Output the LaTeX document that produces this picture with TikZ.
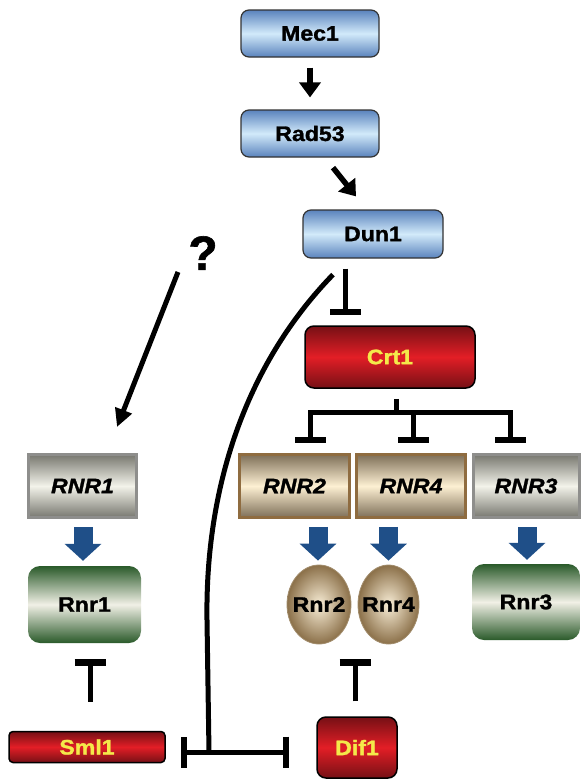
\documentclass[tikz,border=0pt]{standalone}
\usepackage{fontspec}
\setmainfont{Liberation Sans}[BoldFeatures={FakeBold=1.3}, BoldItalicFeatures={FakeBold=1.3}]
\usetikzlibrary{arrows.meta,calc,shapes.geometric}
\definecolor{bluedark}{HTML}{5A83BD}
\definecolor{bluelight}{HTML}{D2EAFA}
\definecolor{reddark}{HTML}{761015}
\definecolor{redmid}{HTML}{E31E26}
\definecolor{txtyellow}{HTML}{F4E94A}
\definecolor{greydark}{HTML}{77776F}
\definecolor{greylight}{HTML}{F3F3EA}
\definecolor{greyborder}{HTML}{8E8E8C}
\definecolor{beigedark}{HTML}{7E6F58}
\definecolor{beigelight}{HTML}{FDF0D3}
\definecolor{beigeborder}{HTML}{8F6C40}
\definecolor{greendark}{HTML}{2A5A2A}
\definecolor{greenlight}{HTML}{F1F0E6}
\definecolor{ballout}{HTML}{8B7049}
\definecolor{ballin}{HTML}{F8EDD6}
\definecolor{arrblue}{HTML}{1F4F88}
\newcommand{\wt}[1]{\scalebox{1.1}[1]{#1}}
\begin{document}
\begin{tikzpicture}[x=1pt,y=-1pt,
  lab/.style={font=\fontsize{21}{23}\selectfont\bfseries, inner sep=0pt},
  bluebox/.style={lab, rounded corners=8pt, draw=black!80, line width=1.2pt,
    top color=bluedark, bottom color=bluedark, middle color=bluelight,
    minimum width=138pt, minimum height=47pt},
  redbox/.style={lab, rounded corners=9pt, draw=black, line width=1.5pt,
    top color=reddark, bottom color=reddark, middle color=redmid, text=txtyellow},
  greygene/.style={lab, font=\fontsize{21}{23}\selectfont\bfseries\itshape,
    draw=greyborder, line width=3pt,
    top color=greydark, bottom color=greydark, middle color=greylight,
    minimum height=63pt},
  beigegene/.style={lab, font=\fontsize{21}{23}\selectfont\bfseries\itshape,
    draw=beigeborder, line width=2.5pt,
    top color=beigedark, bottom color=beigedark, middle color=beigelight,
    minimum height=63pt},
  greenprot/.style={lab, rounded corners=12pt,
    top color=greendark, bottom color=greendark, middle color=greenlight,
    minimum width=110pt, minimum height=76pt},
  ball/.style={lab, ellipse, inner xsep=-12pt, inner ysep=0pt,
    draw=ballout!80, line width=0.8pt,
    inner color=ballin, outer color=ballout,
    minimum height=79pt},
  blk/.style={line width=5.5pt, -{Triangle[length=15pt,width=21pt]}},
  inh/.style={line width=5pt, -{Bar[width=31pt,line width=6.5pt]}},
  thk/.style={line width=5pt},
  barrow/.style={arrblue, line width=19pt, -{Triangle[length=17pt,width=36pt]}}
]
\useasboundingbox (0,0) rectangle (581,780);

% nodes
\node[bluebox] (mec) at (310,33.5) {\wt{Mec1}};
\node[bluebox] (rad) at (310,133.5) {\wt{Rad53}};
\node[bluebox, minimum width=140pt, minimum height=48pt] (dun) at (373,234) {\wt{Dun1}};
\node[redbox, minimum width=170pt, minimum height=62pt] (crt) at (390,357) {\wt{Crt1}};

\node[greygene, minimum width=108pt] (g1) at (82.5,486) {\wt{RNR1}};
\node[beigegene, minimum width=110pt] (g2) at (294.5,486) {\wt{RNR2}};
\node[beigegene, minimum width=109pt] (g4) at (411,486) {\wt{RNR4}};
\node[greygene, minimum width=106pt] (g3) at (526,486) {\wt{RNR3}};

\node[greenprot, minimum width=113pt, minimum height=77pt] (p1) at (84.5,604.5) {\wt{Rnr1}};
\node[ball, minimum width=64pt] (p2) at (319,604.5) {\wt{Rnr2}};
\node[ball, minimum width=61pt] (p4) at (388.5,604.5) {\wt{Rnr4}};
\node[greenprot, minimum width=108pt, minimum height=76pt] (p3) at (526,602) {\wt{Rnr3}};

\node[redbox, rounded corners=4pt, minimum width=156pt, minimum height=31pt] (sml) at (87,747) {\wt{Sml1}};
\node[redbox, minimum width=80pt, minimum height=61pt] (dif) at (357,747.5) {\wt{Dif1}};

\node[font=\fontsize{48}{50}\selectfont\bfseries, inner sep=0pt] (q) at (203,253) {?};

% kinase cascade
\draw[blk] ($(mec.south)+(0,10)$) -- ($(rad.north)+(0,-12)$);
\draw[blk] ($(rad.south)+(23,10)$) -- ($(dun.north)+(-17,-13)$);
\draw[inh] ($(dun.south)+(-28,10)$) -- ($(crt.north)+(-45,-10)$);

% Crt1 repression tree
\coordinate (hub) at ($(crt.south)+(6,23)$);
\coordinate (h2) at (310,412);
\coordinate (h3) at (510,412);
\draw[thk] ($(crt.south)+(6,10)$) -- (hub);
\draw[thk, line cap=rect] (h2) -- (h3);
\draw[inh] (413,412) -- ($(g4.north)+(2,-10)$);
\draw[inh] (h2) -- ($(g2.north)+(15.5,-10)$);
\draw[inh] (h3) -- ($(g3.north)+(-16,-10)$);

% question arrow
\draw[line width=5pt, -{Triangle[length=18pt,width=17pt]}]
  ($(q.south)+(-25,2)$) -- ($(g1.north)+(34.5,-26)$);

% gene -> protein
\draw[barrow] ($(g1.south)+(0.5,8)$) -- ($(p1.north)+(-1.5,-5)$);
\draw[barrow] ($(g2.south -| p2.north)+(-1,8)$) -- ($(p2.north)+(-1,-4)$);
\draw[barrow] ($(g4.south -| p4.north)+(0,8)$) -- ($(p4.north)+(0,-4)$);
\draw[barrow] ($(g3.south)+(1,8)$) -- ($(p3.north)+(1,-4)$);

% repressors
\draw[inh] ($(sml.north)+(3,-29)$) -- ($(p1.south)+(5.5,16)$);
\draw[inh] ($(dif.north)+(-2,-15)$) -- ($(dif.north |- p2.south)+(-2,15)$);

% Dun1 inhibits Sml1 and Dif1
\coordinate (jn) at (209,752);
\draw[thk] ($(dun.south)+(-40,16)$) .. controls (250,360) and (205,480) .. (207,620) -- (jn);
\draw[inh] (jn) -- ($(sml.east)+(15,5)$);
\draw[inh] (jn) -- ($(dif.west)+(-27,4.5)$);
\end{tikzpicture}
\end{document}
